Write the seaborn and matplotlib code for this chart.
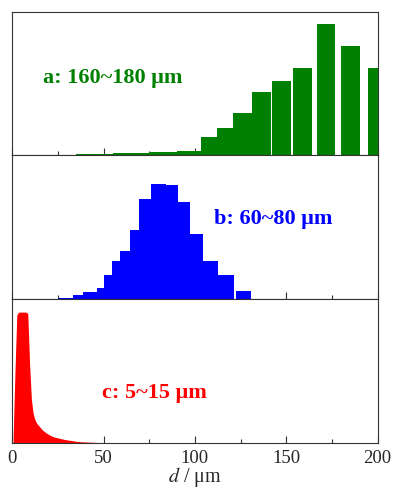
import numpy as np
import pandas as pd
import seaborn as sns
from matplotlib import pyplot as plt
from matplotlib.ticker import MultipleLocator

# panel a: 160~180 um (bar left edge, right edge, relative height %)
a_left = [18, 25, 30, 35, 40, 45, 50, 55, 60, 65, 70, 75, 80, 85, 90, 95,
          103.3, 111.9, 121.0, 131.0, 142.0, 153.8, 166.6, 180.0, 195.0]
a_right = [25, 30, 35, 40, 45, 50, 55, 60, 65, 70, 75, 80, 85, 90, 95, 103.3,
           111.9, 121.0, 131.0, 141.4, 152.4, 164.0, 176.8, 190.3, 205.0]
a_height = [0.3, 0.5, 0.6, 0.8, 0.9, 1.0, 1.2, 1.4, 1.6, 1.8, 2.0, 2.2, 2.4, 2.6, 2.8, 3.0,
            13.1, 18.9, 29.3, 44.2, 52.1, 61.1, 91.5, 76.0, 61.1]

# panel b: 60~80 um
b_left = [25.2, 33.5, 39.0, 46.2, 50.4, 54.4, 59.0, 64.5, 69.5, 75.7, 84.0, 90.5,
          97.3, 104.5, 112.8, 122.4]
b_right = [33.5, 39.0, 46.2, 50.4, 54.4, 59.0, 64.5, 69.5, 75.7, 84.0, 90.5, 97.3,
           104.5, 112.8, 121.5, 130.5]
b_height = [1.0, 3.0, 5.3, 8.1, 17.0, 26.7, 33.5, 48.1, 69.4, 80.3, 79.4, 67.6,
            45.1, 26.6, 16.7, 5.8]

# panel c: 5~15 um, 1 um classes starting at 0
c_height = [5, 50, 89, 91, 91, 91, 91, 91, 90, 55,
            30, 20, 16, 13.5, 12, 10.5, 9, 8, 7, 6.2,
            5.5, 4.8, 4.3, 3.9, 3.6, 3.3, 3.0, 2.7, 2.4, 2.2,
            2.0, 1.8, 1.6, 1.4, 1.2, 1.0, 0.9, 0.8, 0.75, 0.7,
            0.65, 0.6, 0.5, 0.45, 0.4, 0.35, 0.3, 0.3, 0.25, 0.2,
            0.2, 0.15, 0.15, 0.1, 0.1, 0.1, 0.1, 0.05, 0.05, 0.05]

panels = [
    (a_left, a_right, a_height, 'green', 'a: 160~180 μm', (55, 54), 'step'),
    (b_left, b_right, b_height, 'blue', 'b: 60~80 μm', (143, 56), 'step'),
    (list(range(len(c_height))), list(range(1, len(c_height) + 1)), c_height,
     'red', 'c: 5~15 μm', (78, 35), 'poly'),
]

sns.set_style('ticks')
plt.rcParams['font.family'] = ['Liberation Serif', 'DejaVu Serif']
plt.rcParams['mathtext.fontset'] = 'stix'

fig, axes = plt.subplots(3, 1, figsize=(3.95, 4.91), dpi=100, sharex=True)
fig.subplots_adjust(left=0.031, right=0.956, bottom=0.098, top=0.976, hspace=0)

for ax, (left, right, height, col, label, pos, elem) in zip(axes, panels):
    df = pd.DataFrame({'d': [(l + r) / 2 for l, r in zip(left, right)], 'h': height})
    edges = sorted(set(left) | set(right))
    sns.histplot(data=df, x='d', weights='h', bins=edges, color=col, alpha=1,
                 element=elem, linewidth=0, ax=ax)
    ax.set_xlim(0, 200)
    ax.set_ylim(0, 100)
    ax.set_yticks([])
    ax.set_ylabel('')
    ax.set_xlabel('')
    ax.xaxis.set_major_locator(MultipleLocator(50))
    ax.xaxis.set_minor_locator(MultipleLocator(25))
    ax.tick_params(axis='x', which='major', direction='in', length=5, width=0.8, color='#333333')
    ax.tick_params(axis='x', which='minor', direction='in', length=2.7, width=0.8, color='#333333')
    for s in ax.spines.values():
        s.set_visible(True)
        s.set_color('#333333')
        s.set_linewidth(0.8)
    ax.text(pos[0], pos[1], label, color=col, fontsize=16, fontweight='bold',
            ha='center', va='center')

for ax in axes[:-1]:
    ax.tick_params(labelbottom=False)
axes[-1].tick_params(axis='x', labelsize=13.5, pad=5)
axes[-1].set_xlabel('$d$ / μm', fontsize=14.5, labelpad=-1)

plt.savefig('out.png', dpi=100)
